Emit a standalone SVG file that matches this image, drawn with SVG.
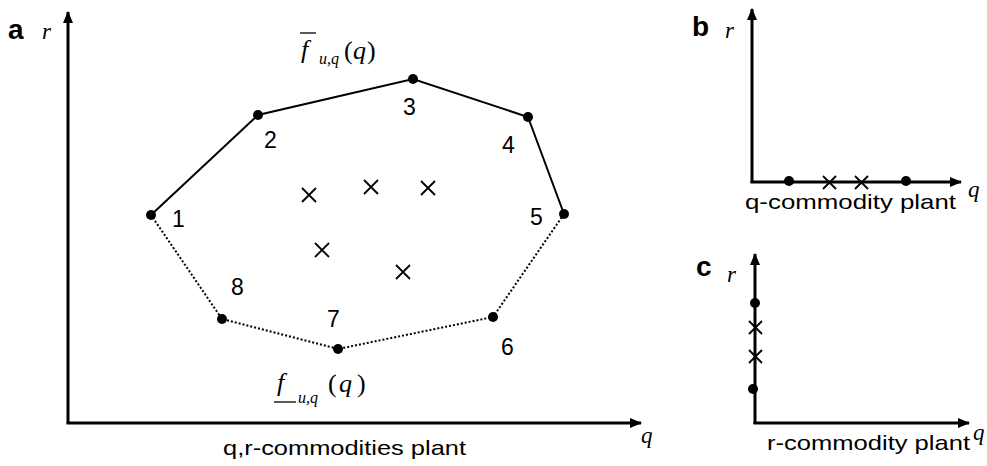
<svg xmlns="http://www.w3.org/2000/svg" width="987" height="466" viewBox="0 0 987 466">
<defs>
<marker id="arr" viewBox="0 0 12 10" refX="11" refY="5" markerWidth="12" markerHeight="10" orient="auto" markerUnits="userSpaceOnUse">
<path d="M0,0 L12,5 L0,10 z" fill="#000"/>
</marker>
<style>
.axis{stroke:#000;stroke-width:3;fill:none}
.solid{stroke:#000;stroke-width:2;fill:none}
.dot{stroke:#000;stroke-width:2;fill:none;stroke-dasharray:2 2}
.pt{fill:#000}
.cross{stroke:#000;stroke-width:1.8;fill:none}
.num{font-family:"Liberation Sans",Arial,sans-serif;font-size:23px;fill:#000}
.lbl{font-family:"Liberation Sans",Arial,sans-serif;font-size:21px;fill:#000}
.pan{font-family:"Liberation Sans",Arial,sans-serif;font-size:28px;font-weight:bold;fill:#000}
.math{font-family:"Liberation Serif","Times New Roman",serif;font-style:italic;fill:#000}
.up{font-style:normal}
</style>
</defs>

<g id="connectors">
<path class="axis" d="M68,423 L68,12" marker-end="url(#arr)"/>
<path class="axis" d="M66.5,423 L641,423" marker-end="url(#arr)"/>
<polyline class="solid" points="151,215 258,115 413,79 528,117 564,214"/>
<polyline class="dot" points="564,214 493,317 338,349 222,319 151,215"/>
<path class="axis" d="M752,183 L752,9" marker-end="url(#arr)"/>
<path class="axis" d="M750.5,182 L961,182" marker-end="url(#arr)"/>
<path class="axis" d="M755,424 L755,254" marker-end="url(#arr)"/>
<path class="axis" d="M753.5,423 L969,423" marker-end="url(#arr)"/>
</g>

<g id="panel-a-labels">
<text class="pan" x="8" y="39">a</text>
<text class="math" x="42" y="39" font-size="23">r</text>
<text class="math" x="641" y="443" font-size="23">q</text>
<text class="lbl" x="223" y="455" textLength="243" lengthAdjust="spacingAndGlyphs">q,r-commodities plant</text>
</g>

<g id="fbar">
<text class="math" x="301" y="58" font-size="26">f</text>
<line x1="300" y1="33" x2="316" y2="33" stroke="#000" stroke-width="1.3"/>
<text class="math" x="319" y="64" font-size="16">u,q</text>
<text class="math up" x="344" y="59" font-size="26">(</text>
<text class="math" x="353" y="59" font-size="26">q</text>
<text class="math up" x="367" y="59" font-size="26">)</text>
</g>

<g id="funder">
<text class="math" x="277" y="391" font-size="26">f</text>
<line x1="274" y1="402" x2="296" y2="402" stroke="#000" stroke-width="1.3"/>
<text class="math" x="298" y="403" font-size="16">u,q</text>
<text class="math up" x="328" y="392" font-size="26">(</text>
<text class="math" x="339" y="392" font-size="26">q</text>
<text class="math up" x="357" y="392" font-size="26">)</text>
</g>

<g id="p1"><circle class="pt" cx="151" cy="215" r="5"/><text class="num" x="172" y="227">1</text></g>
<g id="p2"><circle class="pt" cx="258" cy="115" r="5"/><text class="num" x="264" y="148">2</text></g>
<g id="p3"><circle class="pt" cx="413" cy="79" r="5"/><text class="num" x="403" y="115">3</text></g>
<g id="p4"><circle class="pt" cx="528" cy="117" r="5"/><text class="num" x="502" y="153">4</text></g>
<g id="p5"><circle class="pt" cx="564" cy="214" r="5"/><text class="num" x="530" y="225">5</text></g>
<g id="p6"><circle class="pt" cx="493" cy="317" r="5"/><text class="num" x="501" y="355">6</text></g>
<g id="p7"><circle class="pt" cx="338" cy="349" r="5"/><text class="num" x="327" y="327">7</text></g>
<g id="p8"><circle class="pt" cx="222" cy="319" r="5"/><text class="num" x="231" y="295">8</text></g>

<g id="crosses-a">
<path class="cross" d="M302,188 l14,14 M316,188 l-14,14"/>
<path class="cross" d="M364,180 l14,14 M378,180 l-14,14"/>
<path class="cross" d="M421,181 l14,14 M435,181 l-14,14"/>
<path class="cross" d="M315,243 l14,14 M329,243 l-14,14"/>
<path class="cross" d="M396,265 l14,14 M410,265 l-14,14"/>
</g>

<g id="panel-b">
<text class="pan" x="692" y="36">b</text>
<text class="math" x="725" y="38" font-size="23">r</text>
<text class="math" x="968" y="197" font-size="23">q</text>
<circle class="pt" cx="789" cy="181" r="5"/>
<circle class="pt" cx="906" cy="181" r="5"/>
<path class="cross" d="M823,176 l13,13 M836,176 l-13,13"/>
<path class="cross" d="M855,176 l13,13 M868,176 l-13,13"/>
<text class="lbl" x="745" y="209" textLength="211" lengthAdjust="spacingAndGlyphs">q-commodity plant</text>
</g>

<g id="panel-c">
<text class="pan" x="696" y="276">c</text>
<text class="math" x="727" y="282" font-size="23">r</text>
<text class="math" x="973" y="440" font-size="23">q</text>
<circle class="pt" cx="755" cy="303" r="5"/>
<circle class="pt" cx="753" cy="389" r="5"/>
<path class="cross" d="M749,321 l13,13 M762,321 l-13,13"/>
<path class="cross" d="M749,350 l13,13 M762,350 l-13,13"/>
<text class="lbl" x="767" y="450" textLength="203" lengthAdjust="spacingAndGlyphs">r-commodity plant</text>
</g>
</svg>
